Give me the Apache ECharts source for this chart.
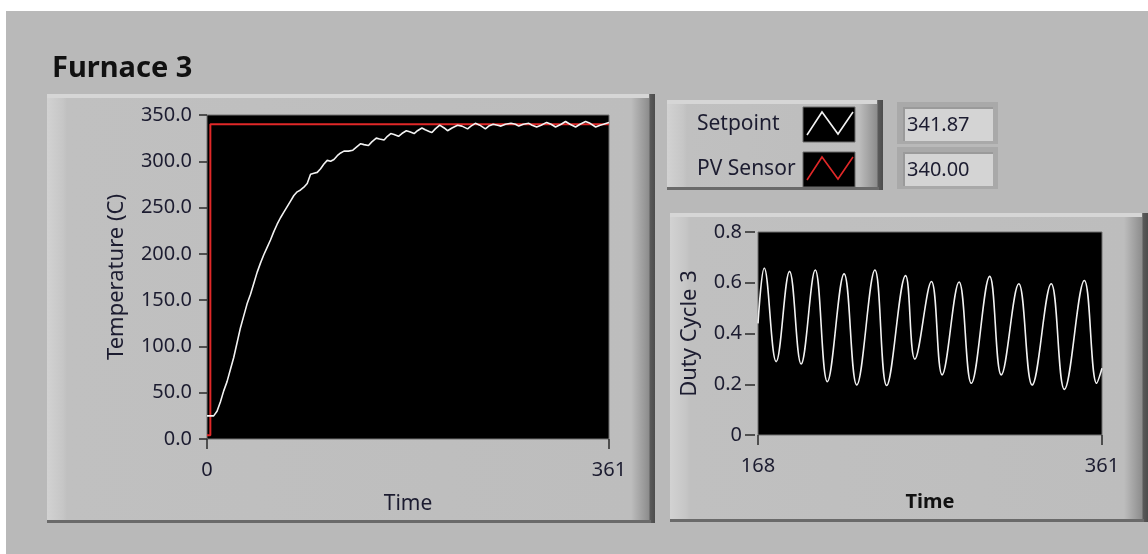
<!DOCTYPE html>
<html>
<head>
<meta charset="utf-8">
<title>Furnace 3</title>
<script src="https://cdn.jsdelivr.net/npm/echarts@6/dist/echarts.min.js"></script>
<style>
  html, body { margin: 0; padding: 0; background: #ffffff; }
  #chart { width: 1148px; height: 554px; }
</style>
</head>
<body>
<div id="chart"></div>
<script>
// ---- Data ---------------------------------------------------------------
const panelTitle = 'Furnace 3';
const tempSeriesName = 'Setpoint';
const setSeriesName = 'PV Sensor';
const dutyName = 'Duty Cycle 3';
const timeName = 'Time';
const tempAxisName = 'Temperature (C)';

// Temperature trace (white)
const pvTime = [0, 6, 9, 12, 15, 18, 21, 24, 27, 30, 33, 36, 39, 42, 45, 48, 51, 54, 57, 60,
  63, 66, 69, 72, 75, 78, 81, 84, 87, 90, 93, 96, 99, 102, 105, 108, 111, 114, 117, 120,
  123, 127, 131, 135, 138, 141, 145, 148, 152, 155, 159, 162, 165, 168, 172, 175, 179, 182,
  186, 189, 193, 196, 200, 202, 205, 209, 213, 216, 220, 225, 229, 234, 237, 241, 245, 250,
  253, 257, 261, 264, 268, 273, 277, 280, 284, 289, 292, 296, 300, 305, 309, 313, 318, 322,
  326, 331, 335, 340, 344, 349, 353, 356, 361];
const pvTemp = [25, 25, 30, 40, 52, 62, 75, 88, 104, 120, 133, 146, 156, 168, 180, 190, 199, 207, 215, 224,
  232, 239, 245, 251, 257, 263, 267, 269, 272, 276, 286, 287, 288, 292, 297, 301, 300, 302, 306, 309,
  311, 311, 312, 316, 319, 318, 317, 321, 325, 324, 323, 327, 330, 329, 327, 330, 333, 332,
  330, 333, 336, 334, 332, 331, 335, 339, 336, 333, 336, 339, 338, 335, 338, 341, 339, 335,
  338, 340, 339, 338, 340, 341, 340, 338, 340, 341, 339, 337, 339, 342, 340, 337, 340, 343,
  340, 337, 340, 343, 341, 337, 339, 340, 341.87];

// Step target (red)
const spTime = [0, 3, 361];
const spTemp = [4, 340, 340];

// Duty cycle, window 168..361
const dutyTime = [168, 171.5, 178.2, 185.7, 192.2, 200.1, 206.9, 216.3, 223.4, 233.6, 240.2,
  250.8, 256, 265.3, 271.3, 280.8, 287.7, 298, 304.5, 314.3, 321.8, 332.5, 339.9, 351.1, 358, 361];
const dutyValue = [0.44, 0.658, 0.289, 0.645, 0.28, 0.65, 0.21, 0.635, 0.197, 0.65, 0.195,
  0.628, 0.299, 0.605, 0.237, 0.603, 0.204, 0.625, 0.237, 0.596, 0.197, 0.596, 0.18, 0.609, 0.204, 0.263];

// Axis ticks
const tempTicks = { min: 0, max: 350, step: 50 };
const timeTicksMain = [0, 361];
const dutyTicks = { min: 0, max: 0.8, step: 0.2 };
const timeTicksDuty = [168, 361];

// ---- Helpers ------------------------------------------------------------
const FONT = 'Noto Sans';
const INK = '#1c1c30';
const zip = (xs, ys) => xs.map((x, i) => [x, ys[i]]);

// Raised bevelled frame
function frame(x, y, w, h) {
  const G = echarts.graphic.LinearGradient;
  return [
    { type: 'rect', z: -20, silent: true, shape: { x, y, width: w, height: h },
      style: { fill: new G(x, 0, x + w, 0, [
        { offset: 0, color: '#d2d2d2' },
        { offset: 16 / w, color: '#c6c6c6' },
        { offset: 20 / w, color: '#c0c0c0' },
        { offset: (w - 24) / w, color: '#bdbdbd' },
        { offset: (w - 6) / w, color: '#8d8d8d' },
        { offset: (w - 5) / w, color: '#5a5a5a' },
        { offset: 1, color: '#4c4c4c' }
      ], true) } },
    { type: 'rect', z: -19, silent: true, shape: { x, y, width: w - 6, height: 4 },
      style: { fill: '#d6d6d6' } },
    { type: 'rect', z: -19, silent: true, shape: { x, y: y + h - 3, width: w - 4, height: 3 },
      style: { fill: '#6a6a6a' } }
  ];
}

function numericBox(y, text) {
  return [
    { type: 'rect', z: -18, silent: true, shape: { x: 897, y, width: 101, height: 42 },
      style: { fill: '#a9a9a9' } },
    { type: 'rect', z: -17, silent: true, shape: { x: 903, y: y + 5, width: 90, height: 34 },
      style: { fill: '#9a9a9a' } },
    { type: 'rect', z: -16, silent: true, shape: { x: 905, y: y + 7, width: 88, height: 32 },
      style: { fill: '#d4d4d4' } },
    { type: 'text', z: 5, silent: true, x: 907, y: y + 23,
      style: { text, font: '20px "' + FONT + '"', fill: INK, verticalAlign: 'middle' } }
  ];
}

function legendRow(y, name, color) {
  const sx = 803, sy = y - 17;
  return [
    { type: 'text', z: 5, silent: true, x: 697, y,
      style: { text: name, font: '21px "' + FONT + '"', fill: INK, verticalAlign: 'middle' } },
    { type: 'rect', z: 4, silent: true, shape: { x: sx, y: sy, width: 52, height: 35 },
      style: { fill: '#000', stroke: '#6a6a6a', lineWidth: 1 } },
    { type: 'polyline', z: 5, silent: true,
      shape: { points: [[sx + 4, sy + 28], [sx + 19, sy + 5], [sx + 35, sy + 27], [sx + 50, sy + 5]] },
      style: { stroke: color, lineWidth: 1.6, fill: null } }
  ];
}

const lastTemp = pvTemp[pvTemp.length - 1];
const lastSet = spTemp[spTemp.length - 1];

const graphics = [
  { type: 'rect', z: -30, silent: true, shape: { x: 6, y: 11, width: 1142, height: 543 },
    style: { fill: '#b9b9b9' } },
  ...frame(47, 94, 608, 429),
  ...frame(670, 213, 478, 309),
  ...frame(667, 100, 216, 90),
  ...legendRow(124, tempSeriesName, '#f2f2f2'),
  ...legendRow(169, setSeriesName, '#e02828'),
  ...numericBox(102, lastTemp.toFixed(2)),
  ...numericBox(147, lastSet.toFixed(2))
];

const tickStyle = { color: '#2a2a2a', width: 1.5 };
const labelStyle = { fontFamily: FONT, fontSize: 20, color: INK };

const chart = echarts.init(document.getElementById('chart'), null, { renderer: 'canvas' });
chart.setOption({
  animation: false,
  backgroundColor: 'transparent',
  title: {
    text: panelTitle, left: 47, top: 49,
    textStyle: { fontFamily: FONT, fontSize: 29, fontWeight: 'bold', color: '#111' }
  },
  graphic: graphics,
  grid: [
    { left: 207, top: 115, width: 402, height: 324, show: true,
      backgroundColor: '#000', borderColor: '#707070', borderWidth: 1 },
    { left: 758, top: 232, width: 344, height: 203, show: true,
      backgroundColor: '#000', borderColor: '#707070', borderWidth: 1 }
  ],
  xAxis: [
    { type: 'value', gridIndex: 0, min: 0, max: 361, offset: 5,
      axisLine: { show: false }, splitLine: { show: false },
      axisTick: { customValues: timeTicksMain, length: 10, lineStyle: tickStyle },
      axisLabel: { customValues: timeTicksMain, margin: 16, ...labelStyle },
      name: timeName, nameLocation: 'middle', nameGap: 50,
      nameTextStyle: { fontFamily: FONT, fontSize: 21, color: INK } },
    { type: 'value', gridIndex: 1, min: 168, max: 361, offset: 5,
      axisLine: { show: false }, splitLine: { show: false },
      axisTick: { customValues: timeTicksDuty, length: 10, lineStyle: tickStyle },
      axisLabel: { customValues: timeTicksDuty, margin: 16, ...labelStyle },
      name: timeName, nameLocation: 'middle', nameGap: 52,
      nameTextStyle: { fontFamily: FONT, fontSize: 20, fontWeight: 'bold', color: '#111' } }
  ],
  yAxis: [
    { type: 'value', gridIndex: 0, min: tempTicks.min, max: tempTicks.max, interval: tempTicks.step,
      offset: 3, axisLine: { show: false }, splitLine: { show: false },
      axisTick: { length: 8, lineStyle: tickStyle },
      axisLabel: { margin: 12, formatter: v => v.toFixed(1), ...labelStyle },
      name: tempAxisName, nameLocation: 'middle', nameGap: 76, nameRotate: 90,
      nameTextStyle: { fontFamily: FONT, fontSize: 22, color: INK } },
    { type: 'value', gridIndex: 1, min: dutyTicks.min, max: dutyTicks.max, interval: dutyTicks.step,
      offset: 3, axisLine: { show: false }, splitLine: { show: false },
      axisTick: { length: 10, lineStyle: tickStyle },
      axisLabel: { margin: 13, formatter: v => (v === 0 ? '0' : v.toFixed(1)), ...labelStyle },
      name: dutyName, nameLocation: 'middle', nameGap: 54, nameRotate: 90,
      nameTextStyle: { fontFamily: FONT, fontSize: 22, color: INK } }
  ],
  series: [
    { name: setSeriesName, type: 'line', xAxisIndex: 0, yAxisIndex: 0, step: 'end',
      data: zip(spTime, spTemp), showSymbol: false, silent: true,
      lineStyle: { color: '#e02828', width: 2 } },
    { name: tempSeriesName, type: 'line', xAxisIndex: 0, yAxisIndex: 0,
      data: zip(pvTime, pvTemp), showSymbol: false, silent: true,
      lineStyle: { color: '#f2f2f2', width: 1.6 } },
    { name: dutyName, type: 'line', xAxisIndex: 1, yAxisIndex: 1, smooth: 0.4,
      data: zip(dutyTime, dutyValue), showSymbol: false, silent: true,
      lineStyle: { color: '#f2f2f2', width: 1.6 } }
  ]
});
</script>
</body>
</html>
